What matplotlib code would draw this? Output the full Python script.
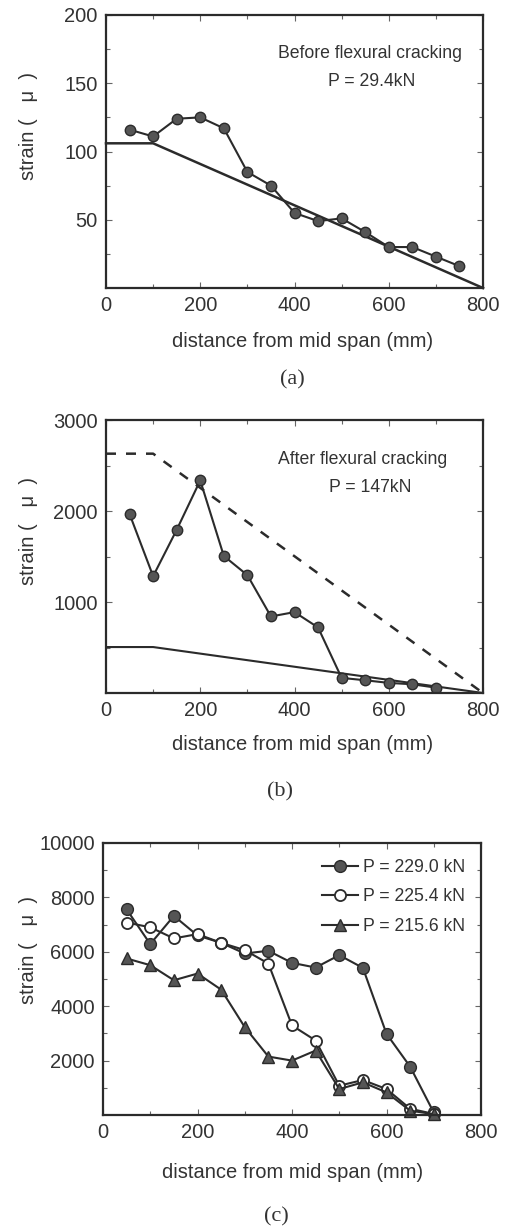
import matplotlib
matplotlib.use("Agg")
import matplotlib.pyplot as plt
from matplotlib.ticker import FixedLocator

plt.rcParams['font.family'] = ['Liberation Sans', 'DejaVu Sans']

# ---------------- data ----------------
x_a = [50, 100, 150, 200, 250, 300, 350, 400, 450, 500, 550, 600, 650, 700, 750]
strain_a = [116, 111, 124, 125, 117, 85, 75, 55, 49, 51, 41, 30, 30, 23, 16]
calc_a_x = [0, 100, 800]
calc_a_y = [106, 106, 0]

x_b = [50, 100, 150, 200, 250, 300, 350, 400, 450, 500, 550, 600, 650, 700]
strain_b = [1967, 1284, 1793, 2336, 1506, 1295, 841, 889, 720, 166, 140, 111, 96, 59]
calc_b_cracked_x = [0, 100, 800]
calc_b_cracked_y = [2630, 2630, 0]
calc_b_uncracked_x = [0, 100, 800]
calc_b_uncracked_y = [505, 505, 0]

x_c = [50, 100, 150, 200, 250, 300, 350, 400, 450, 500, 550, 600, 650, 700]
strain_c_229 = [7560, 6283, 7320, 6600, 6330, 5938, 6037, 5594, 5421, 5877, 5409, 2985, 1778, 92]
strain_c_225 = [7077, 6900, 6492, 6650, 6330, 6062, 5569, 3292, 2738, 1077, 1286, 954, 230, 40]
strain_c_215 = [5754, 5508, 4954, 5200, 4609, 3231, 2148, 2000, 2369, 954, 1200, 831, 160, 30]
legend_labels = ['P = 229.0 kN', 'P = 225.4 kN', 'P = 215.6 kN']

x_major = [0, 200, 400, 600, 800]
x_minor = [100, 300, 500, 700]

# ---------------- figure ----------------
W, H = 514, 1226
fig = plt.figure(figsize=(W / 100, H / 100), dpi=100)

ink = '#2b2b2b'
txt = '#333333'
mfill = '#555555'
TICK_FS = 14.5
LAB_FS = 14.5
ANN_FS = 12.7


def ax_at(l, t, r, b):
    return fig.add_axes([l / W, 1 - b / H, (r - l) / W, (b - t) / H])


def style(ax, ymax, ymaj, ymin):
    ax.set_xlim(0, 800)
    ax.set_ylim(0, ymax)
    ax.xaxis.set_major_locator(FixedLocator(x_major))
    ax.xaxis.set_minor_locator(FixedLocator(x_minor))
    ax.yaxis.set_major_locator(FixedLocator(ymaj))
    ax.yaxis.set_minor_locator(FixedLocator(ymin))
    ax.tick_params(which='both', direction='in', top=True, right=True,
                   color='#666666', width=0.8)
    ax.tick_params(which='major', length=4)
    ax.tick_params(which='minor', length=3)
    ax.tick_params(axis='x', labelsize=TICK_FS, labelcolor=txt, pad=6)
    ax.tick_params(axis='y', labelsize=TICK_FS, labelcolor=txt, pad=6)
    for s in ax.spines.values():
        s.set_color(ink)
        s.set_linewidth(1.6)


def put(x, y, s, **kw):
    fig.text(x / W, 1 - y / H, s, **kw)


# ---------------- (a) ----------------
ax1 = ax_at(106, 15, 483, 288)
ax1.plot(calc_a_x, calc_a_y, color=ink, lw=1.8, clip_on=False)
ax1.plot(x_a, strain_a, color=ink, lw=1.5, marker='o', ms=7.5,
         mfc=mfill, mec=ink, mew=1.0)
style(ax1, 200, [50, 100, 150, 200], [25, 75, 125, 175])
put(370, 53, 'Before flexural cracking', ha='center', va='center', fontsize=ANN_FS, color=txt)
put(372, 82, 'P = 29.4kN', ha='center', va='center', fontsize=ANN_FS, color=txt)

# ---------------- (b) ----------------
ax2 = ax_at(106, 420, 483, 693)
ax2.plot(calc_b_cracked_x, calc_b_cracked_y, color=ink, lw=1.8, ls=(0, (4, 4)))
ax2.plot(calc_b_uncracked_x, calc_b_uncracked_y, color=ink, lw=1.5)
ax2.plot(x_b, strain_b, color=ink, lw=1.5, marker='o', ms=7.5,
         mfc=mfill, mec=ink, mew=1.0)
style(ax2, 3000, [1000, 2000, 3000], [500, 1500, 2500])
put(363, 459, 'After flexural cracking', ha='center', va='center', fontsize=ANN_FS, color=txt)
put(370, 487, 'P = 147kN', ha='center', va='center', fontsize=ANN_FS, color=txt)

# ---------------- (c) ----------------
ax3 = ax_at(103, 843, 481, 1115)
ax3.plot(x_c, strain_c_229, color=ink, lw=1.5, marker='o', ms=8.5,
         mfc=mfill, mec=ink, mew=1.0, label=legend_labels[0], clip_on=False)
ax3.plot(x_c, strain_c_225, color=ink, lw=1.5, marker='o', ms=8,
         mfc='white', mec=ink, mew=1.3, label=legend_labels[1], clip_on=False)
ax3.plot(x_c, strain_c_215, color=ink, lw=1.5, marker='^', ms=8.5,
         mfc=mfill, mec=ink, mew=1.0, label=legend_labels[2], clip_on=False)
style(ax3, 10000, [2000, 4000, 6000, 8000, 10000], [1000, 3000, 5000, 7000, 9000])
leg = ax3.legend(loc='upper left', bbox_to_anchor=((322 - 103) / 378, 1 - 16 / 272),
                 frameon=False, fontsize=ANN_FS, handlelength=2.05, handletextpad=0.25,
                 labelspacing=0.7, borderaxespad=0, borderpad=0, labelcolor=txt)

# ---------------- shared labels ----------------
for (yc, xl, xlx, pl, plx, lab) in [(126, 342, 303, 380, 292, '(a)'),
                                    (531, 745, 303, 792, 280, '(b)'),
                                    (950, 1172, 293, 1217, 276, '(c)')]:
    put(28, yc, 'strain (   μ  )', rotation=90, ha='center', va='center',
        fontsize=LAB_FS, color=txt)
    put(xlx, xl, 'distance from mid span (mm)', ha='center', va='center',
        fontsize=LAB_FS, color=txt)
    put(plx, pl, lab, ha='center', va='center', fontsize=16,
        family=['Liberation Serif', 'DejaVu Serif'], color=txt)

fig.savefig('out.png', dpi=100)
